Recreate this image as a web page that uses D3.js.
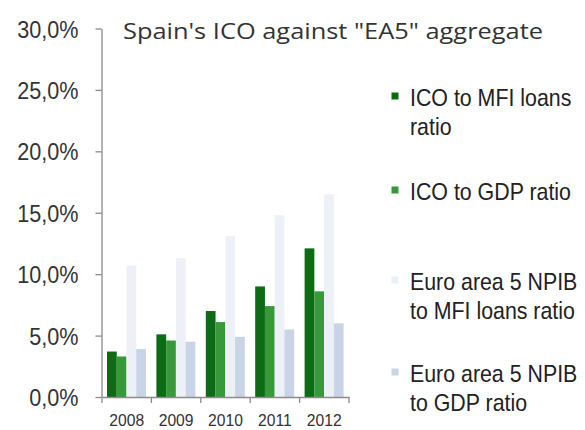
<!DOCTYPE html>
<html><head><meta charset="utf-8">
<script src="https://cdn.jsdelivr.net/npm/d3@7/dist/d3.min.js"></script>
<style>body{margin:0;background:#fff}svg{display:block}</style>
</head><body>
<svg id="c" width="585" height="430"></svg>
<script>
const years = ["2008","2009","2010","2011","2012"];
const seriesNames = ["ICO to MFI loans ratio","ICO to GDP ratio","Euro area 5 NPIB to MFI loans ratio","Euro area 5 NPIB to GDP ratio"];
const icoMfi = [3.7, 5.1, 7.0, 9.0, 12.1];
const icoGdp = [3.3, 4.6, 6.1, 7.4, 8.6];
const ea5Mfi = [10.7, 11.3, 13.1, 14.8, 16.5];
const ea5Gdp = [3.9, 4.5, 4.9, 5.5, 6.0];
const yTicks = [0, 5, 10, 15, 20, 25, 30];
const colors = ["#0d6b16", "#37993a", "#edf0f6", "#c9d4e6"];
const legendLines = [["ICO to MFI loans","ratio"],["ICO to GDP ratio"],["Euro area 5 NPIB","to MFI loans ratio"],["Euro area 5 NPIB","to GDP ratio"]];
const title = "Spain's ICO against \"EA5\" aggregate";

const allSeries = [icoMfi, icoGdp, ea5Mfi, ea5Gdp];
const svg = d3.select("#c");
const font = "'Liberation Sans', Arial, sans-serif";

const x0 = d3.scaleBand().domain(years).range([102, 349]).padding(0);
const x1 = d3.scaleBand().domain(d3.range(4)).range([5, x0.bandwidth() - 5.4]).padding(0);
const y = d3.scaleLinear().domain([0, 30]).range([397, 28.5]);

// bars
const g = svg.append("g");
years.forEach((yr, i) => {
  allSeries.forEach((s, k) => {
    g.append("rect")
      .attr("x", x0(yr) + x1(k))
      .attr("y", y(s[i]))
      .attr("width", x1.bandwidth())
      .attr("height", y(0) - y(s[i]))
      .attr("fill", colors[k]);
  });
});

// y axis
const ySx = 0.9;
const yAxis = svg.append("g").attr("transform", "translate(101.5,0)")
  .call(d3.axisLeft(y).tickValues(yTicks).tickSize(6).tickSizeOuter(0).tickPadding(17)
    .tickFormat(d => d3.format(".1f")(d).replace(".", ",") + "%"));
yAxis.selectAll("path,line").attr("stroke", "#8a8a8a").attr("stroke-width", 1.3);
yAxis.selectAll("text").attr("font-family", font).attr("font-size", 24).attr("fill", "#333")
  .attr("dy", "0.36em").attr("x", -23 / ySx).attr("transform", `scale(${ySx},1)`);

// x axis
const xSx = 0.95;
const xAxis = svg.append("g").attr("transform", "translate(0,397)")
  .call(d3.axisBottom(x0).tickSize(0).tickPadding(17));
xAxis.select("path").attr("stroke", "#8a8a8a").attr("stroke-width", 1.3);
xAxis.selectAll(".tick text").attr("font-family", font).attr("font-size", 16.5).attr("fill", "#333")
  .attr("transform", `scale(${xSx},1)`);
const bounds = years.map(d => x0(d)).concat([x0.range()[1]]);
xAxis.selectAll("line.b").data(bounds).enter().append("line").attr("class","b")
  .attr("x1", d => d).attr("x2", d => d).attr("y1", 0).attr("y2", 6)
  .attr("stroke", "#8a8a8a").attr("stroke-width", 1.3);

// title
svg.append("text").attr("x", 123).attr("y", 39)
  .attr("font-family", "'Open Sans', sans-serif").attr("font-size", 21)
  .attr("fill", "#333").attr("textLength", 420).attr("lengthAdjust", "spacingAndGlyphs")
  .text(title);

// legend
const lSx = 0.89;
const legendBase = [106, 200, 290, 382];
legendLines.forEach((lines, k) => {
  svg.append("rect").attr("x", 391.5).attr("y", legendBase[k] - 13.5).attr("width", 7).attr("height", 7).attr("fill", colors[k]);
  lines.forEach((ln, j) => {
    svg.append("text").attr("transform", `translate(410,${legendBase[k] + j * 29}) scale(${lSx},1)`)
      .attr("font-family", font).attr("font-size", 24).attr("fill", "#222")
      .text(ln);
  });
});
</script>
</body></html>
